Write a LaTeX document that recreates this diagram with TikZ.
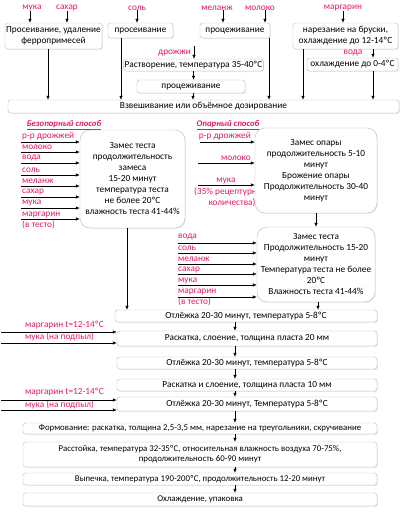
\documentclass[tikz,border=0pt]{standalone}
\usepackage{fontspec}
\setmainfont{Carlito}
\usetikzlibrary{arrows.meta,shadows}
\definecolor{lblred}{RGB}{232,23,93}
\definecolor{boxgray}{RGB}{185,185,185}
\tikzset{
  box/.style={draw=boxgray, fill=white, rounded corners=2.5pt, align=center, inner sep=1pt, font=\fontsize{9.3}{11}\selectfont, drop shadow={opacity=0.18, shadow xshift=0.8pt, shadow yshift=-0.8pt}},
  roundbox/.style={box, rounded corners=10pt},
  widebox/.style={box, font=\fontsize{8.8}{10}\selectfont},
  lbl/.style={text=lblred, inner sep=0pt, align=left, font=\fontsize{9.3}{11}\selectfont},
  title/.style={text=lblred, inner sep=0pt, font=\fontsize{8.7}{11}\selectfont\bfseries\itshape},
  arrow/.style={-{Latex[length=4pt,width=3.5pt]}, line width=0.6pt}
}
\begin{document}
\begin{tikzpicture}[x=1pt,y=-1pt]
\useasboundingbox (0,0) rectangle (405,515);

\node[lbl] (muka) at (32,8) {мука};
\node[lbl] (sahar) at (67,8) {сахар};
\node[lbl] (sol) at (137,8) {соль};
\node[lbl] (melanzh) at (217,8) {меланж};
\node[lbl] (moloko) at (260,8) {молоко};
\node[lbl] (margarin) at (343,8) {маргарин};

\node[box, minimum width=97, minimum height=26] (pros) at (53.5,36) {Просеивание, удаление\\ферропримесей};
\node[box, minimum width=65, minimum height=15] (prosol) at (140.5,30.5) {просеивание};
\node[box, minimum width=70, minimum height=15] (proc) at (235,30.5) {процеживание};
\node[box, minimum width=105, minimum height=26] (narez) at (345.5,36) {нарезание на бруски,\\охлаждение до 12-14ºС};
\draw[arrow] ([xshift=-2pt]muka.south) -- ([xshift=-2pt]muka.south |- pros.north);
\draw[arrow] (sahar.south) -- (sahar.south |- pros.north);
\draw[arrow] (sol.south) -- (sol.south |- prosol.north);
\draw[arrow] ([xshift=6pt]melanzh.south) -- ([xshift=6pt]melanzh.south |- proc.north);
\draw[arrow] ([xshift=5pt]moloko.south) -- ([xshift=5pt]moloko.south |- proc.north);
\draw[arrow] (margarin.south) -- (margarin.south |- narez.north);

\node[lbl, anchor=east] (drozh) at (191,53) {дрожжи};
\coordinate (drozhin) at (194,46);
\node[box, minimum width=139, minimum height=12] (rastv) at (193.5,65) {Растворение, температура 35-40ºС};
\node[box, minimum width=108, minimum height=13] (proc2) at (191,86.5) {процеживание};
\node[lbl] (voda) at (353,53) {вода};
\node[box, minimum width=91, minimum height=13] (ohl) at (352.5,64.5) {охлаждение до 0-4ºС};
\draw[arrow] (drozhin) -- (drozhin |- rastv.north);
\draw[arrow] (rastv.south) -- (rastv.south |- proc2.north);
\draw[arrow] ([xshift=27.5pt]narez.south) -- ([xshift=27.5pt]narez.south |- ohl.north);

\node[box, minimum width=391, minimum height=13] (vzv) at (203.5,106.5) {Взвешивание или объёмное дозирование};
\draw[arrow] ([xshift=-5.5pt]pros.south) -- ([xshift=-5.5pt]pros.south |- vzv.north);
\draw[arrow] ([xshift=-19.5pt]prosol.south) -- ([xshift=-19.5pt]prosol.south |- vzv.north);
\draw[arrow] ([xshift=2pt]proc2.south) -- ([xshift=2pt]proc2.south |- vzv.north);
\draw[arrow] ([xshift=34pt]proc.south) -- ([xshift=34pt]proc.south |- vzv.north);
\draw[arrow] ([xshift=-42.5pt]narez.south) -- ([xshift=-42.5pt]narez.south |- vzv.north);
\draw[arrow] ([xshift=20.5pt]ohl.south) -- ([xshift=20.5pt]ohl.south |- vzv.north);

\node[title] (bztitle) at (64,125) {\underline{Безопорный способ}};
\node[title] (optitle) at (228,125) {\underline{Опарный способ}};

\node[roundbox, minimum width=105, minimum height=98] (bz) at (132.5,179) {Замес теста\\продолжительность\\замеса\\15-20 минут\\температура теста\\не более 20ºС\\влажность теста 41-44\%};
\node[lbl, anchor=west] (bz1) at (22,136) {р-р дрожжей};
\node[lbl, anchor=west] (bz2) at (22,147) {молоко};
\node[lbl, anchor=west] (bz3) at (22,158) {вода};
\node[lbl, anchor=west] (bz4) at (22,170) {соль};
\node[lbl, anchor=west] (bz5) at (22,181) {меланж};
\node[lbl, anchor=west] (bz6) at (22,192) {сахар};
\node[lbl, anchor=west] (bz7) at (22,203) {мука};
\node[lbl, anchor=west] (bz8) at (22,220) {маргарин\\(в тесто)};
\coordinate (bzin1) at (21,142);
\coordinate (bzin2) at (21,152);
\coordinate (bzin3) at (21,163);
\coordinate (bzin4) at (21,175);
\coordinate (bzin5) at (21,186);
\coordinate (bzin6) at (21,197);
\coordinate (bzin7) at (21,208);
\coordinate (bzin8) at (21,219);
\draw[arrow] (bzin1) -- (bzin1 -| bz.west);
\draw[arrow] (bzin2) -- (bzin2 -| bz.west);
\draw[arrow] (bzin3) -- (bzin3 -| bz.west);
\draw[arrow] (bzin4) -- (bzin4 -| bz.west);
\draw[arrow] (bzin5) -- (bzin5 -| bz.west);
\draw[arrow] (bzin6) -- (bzin6 -| bz.west);
\draw[arrow] (bzin7) -- (bzin7 -| bz.west);
\draw[arrow] (bzin8) -- (bzin8 -| bz.west);

\node[lbl, anchor=east] (op1) at (251,136) {р-р дрожжей};
\node[lbl, anchor=east] (op2) at (251,158) {молоко};
\node[lbl] (op3) at (226,181) {мука};
\node[lbl, align=center] (op4) at (232,197.5) {(35\% рецептурного\\количества)};
\node[roundbox, minimum width=122, minimum height=85] (op) at (316,170.5) {Замес опары\\продолжительность 5-10\\минут\\Брожение опары\\Продолжительность 30-40\\минут};
\coordinate (opin1) at (200,142);
\coordinate (opin2) at (198,163);
\coordinate (opin3) at (198,185);
\draw[arrow] (opin1) -- (opin1 -| op.west);
\draw[arrow] (opin2) -- (opin2 -| op.west);
\draw[arrow] (opin3) -- (opin3 -| op.west);

\node[roundbox, minimum width=118, minimum height=75] (zt) at (316,264.5) {Замес теста\\Продолжительность 15-20\\минут\\Температура теста не более\\20ºС\\Влажность теста 41-44\%};
\draw[arrow] (op.south) -- (zt.north);
\node[lbl, anchor=west] (zt1) at (178,237) {вода};
\node[lbl, anchor=west] (zt2) at (178,248) {соль};
\node[lbl, anchor=west] (zt3) at (178,259) {меланж};
\node[lbl, anchor=west] (zt4) at (178,270) {сахар};
\node[lbl, anchor=west] (zt5) at (178,281) {мука};
\node[lbl, anchor=west] (zt6) at (178,297.5) {маргарин\\(в тесто)};
\coordinate (ztin1) at (178,243);
\coordinate (ztin2) at (178,253);
\coordinate (ztin3) at (178,264);
\coordinate (ztin4) at (178,274);
\coordinate (ztin5) at (178,285);
\coordinate (ztin6) at (178,297);
\draw[arrow] (ztin1) -- (ztin1 -| zt.west);
\draw[arrow] (ztin2) -- (ztin2 -| zt.west);
\draw[arrow] (ztin3) -- (ztin3 -| zt.west);
\draw[arrow] (ztin4) -- (ztin4 -| zt.west);
\draw[arrow] (ztin5) -- (ztin5 -| zt.west);
\draw[arrow] (ztin6) -- (ztin6 -| zt.west);

\node[box, minimum width=262, minimum height=12] (otl1) at (246,316) {Отлёжка 20-30 минут, температура 5-8ºС};
\draw[arrow] ([xshift=-5.5pt]bz.south) -- ([xshift=-5.5pt]bz.south |- otl1.north);
\draw[arrow] ([xshift=2pt]zt.south) -- ([xshift=2pt]zt.south |- otl1.north);

\node[box, minimum width=260, minimum height=15] (rask1) at (247,338.5) {Раскатка, слоение, толщина пласта 20 мм};
\node[box, minimum width=260, minimum height=12] (otl2) at (247,363) {Отлёжка 20-30 минут, температура 5-8ºС};
\node[box, minimum width=260, minimum height=12] (rask2) at (247,385) {Раскатка и слоение, толщина пласта 10 мм};
\node[box, minimum width=260, minimum height=14] (otl3) at (247,404) {Отлёжка 20-30 минут, Температура 5-8ºС};
\node[widebox, minimum width=354, minimum height=11] (form) at (200,428.5) {Формование: раскатка, толщина 2,5-3,5 мм, нарезание на треугольники, скручивание};
\node[widebox, minimum width=354, minimum height=25] (rasst) at (200,454.5) {Расстойка, температура 32-35ºС, относительная влажность воздуха 70-75\%,\\продолжительность 60-90 минут};
\node[widebox, minimum width=354, minimum height=12] (vyp) at (200,479) {Выпечка, температура 190-200ºС, продолжительность 12-20 минут};
\node[widebox, minimum width=354, minimum height=13] (upak) at (200,499.5) {Охлаждение, упаковка};

\coordinate (spine) at (235,0);
\draw[arrow] (otl1.south -| spine) -- (rask1.north -| spine);
\draw[arrow] (rask1.south -| spine) -- (otl2.north -| spine);
\draw[arrow] (otl2.south -| spine) -- (rask2.north -| spine);
\draw[arrow] (rask2.south -| spine) -- (otl3.north -| spine);
\draw[arrow] (otl3.south -| spine) -- (form.north -| spine);
\draw[arrow] (form.south -| spine) -- (rasst.north -| spine);
\draw[arrow] (rasst.south -| spine) -- (vyp.north -| spine);
\draw[arrow] (vyp.south -| spine) -- (upak.north -| spine);

\node[lbl, anchor=west] (marg1) at (25,325) {маргарин t=12-14ºС};
\node[lbl, anchor=west] (podp1) at (25,337) {мука (на подпыл)};
\coordinate (margin1) at (1,332);
\coordinate (podpin1) at (1,343);
\draw[arrow] (margin1) -- (margin1 -| rask1.west);
\draw[arrow] (podpin1) -- (podpin1 -| rask1.west);
\node[lbl, anchor=west] (marg2) at (25,392) {маргарин t=12-14ºС};
\node[lbl, anchor=west] (podp2) at (25,405) {мука (на подпыл)};
\coordinate (margin2) at (1,400);
\coordinate (podpin2) at (1,410);
\draw[arrow] (margin2) -- (margin2 -| otl3.west);
\draw[arrow] (podpin2) -- (podpin2 -| otl3.west);
\end{tikzpicture}
\end{document}
